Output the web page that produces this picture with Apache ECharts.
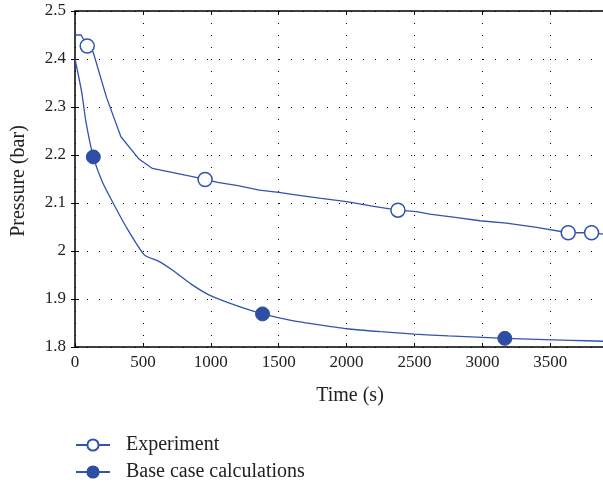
<!DOCTYPE html>
<html>
<head>
<meta charset="utf-8">
<script src="https://cdn.jsdelivr.net/npm/echarts@6/dist/echarts.min.js"></script>
<style>
  html, body { margin: 0; padding: 0; background: #fff; }
  #chart { width: 603px; height: 482px; }
</style>
</head>
<body>
<div id="chart"></div>
<script>
// 数据
var expTime = [0, 45, 90, 134, 232, 338, 473, 570, 695, 865, 958, 1050, 1200, 1358, 1500, 1650, 1800, 2000, 2200, 2378, 2514, 2612, 2800, 2981, 3177, 3399, 3632, 3804, 3888]
var expPressure = [2.45, 2.45, 2.427, 2.414, 2.32, 2.238, 2.191, 2.172, 2.165, 2.155, 2.149, 2.143, 2.136, 2.127, 2.122, 2.116, 2.11, 2.103, 2.093, 2.085, 2.082, 2.077, 2.07, 2.063, 2.058, 2.049, 2.038, 2.038, 2.035]
var expMarkerTimes = [90, 958, 2378, 3632, 3804]

var baseTime = [0, 50, 80, 135, 200, 275, 375, 510, 621, 719, 850, 990, 1200, 1381, 1600, 1800, 2000, 2250, 2500, 2750, 3000, 3165, 3400, 3650, 3888]
var basePressure = [2.40, 2.33, 2.27, 2.196, 2.145, 2.103, 2.051, 1.992, 1.978, 1.96, 1.932, 1.908, 1.885, 1.869, 1.855, 1.846, 1.838, 1.832, 1.827, 1.823, 1.82, 1.818, 1.816, 1.814, 1.812]
var baseMarkerTimes = [135, 1381, 3165]

var xTicks = [0, 500, 1000, 1500, 2000, 2500, 3000, 3500]
var seriesNames = ['Experiment', 'Base case calculations']

var blue = '#3353b0'
var font = 'Liberation Serif'

function buildData (times, values, marks) {
  return times.map(function (t, i) {
    var on = marks.indexOf(t) >= 0
    return {
      value: [t, values[i]],
      symbol: on ? 'circle' : 'none',
      symbolSize: on ? 14 : 0
    }
  })
}

var gridLine = { show: true, lineStyle: { color: '#000', width: 1, type: [1, 11] } }

function legendAt (name, top) {
  return {
    orient: 'vertical',
    left: 70,
    top: top,
    itemWidth: 34,
    itemHeight: 14,
    textStyle: { fontFamily: font, fontSize: 20, color: '#222', padding: [0, 0, 0, 11] },
    data: [name]
  }
}

var myChart = echarts.init(document.getElementById('chart'))
var option = {
  animation: false,
  grid: { left: 75, top: 11, right: 0, bottom: 135, outerBoundsMode: 'none', containLabel: false },
  legend: [legendAt(seriesNames[0], 430), legendAt(seriesNames[1], 457)],
  xAxis: [
    {
      type: 'value',
      min: 0,
      max: 3888,
      interval: 500,
      name: 'Time (s)',
      nameLocation: 'middle',
      nameGap: 39,
      nameTextStyle: { fontFamily: font, fontSize: 20, color: '#222', padding: [0, 0, 0, 22] },
      axisLine: { show: true, lineStyle: { color: '#000', width: 1.5 } },
      axisTick: { show: true, inside: true, length: 4, lineStyle: { color: '#000' } },
      axisLabel: {
        fontFamily: font, fontSize: 17, color: '#222', margin: 7,
        formatter: function (v) { return xTicks.indexOf(v) >= 0 ? String(v) : '' }
      },
      splitLine: gridLine
    },
    {
      type: 'value',
      position: 'top',
      min: 0,
      max: 3888,
      interval: 500,
      axisLine: { show: true, lineStyle: { color: '#000', width: 1.5 } },
      axisTick: { show: true, inside: true, length: 4, lineStyle: { color: '#000' } },
      axisLabel: { show: false },
      splitLine: { show: false }
    }
  ],
  yAxis: [
    {
      type: 'value',
      min: 1.8,
      max: 2.5,
      interval: 0.1,
      name: 'Pressure (bar)',
      nameLocation: 'middle',
      nameGap: 46,
      nameTextStyle: { fontFamily: font, fontSize: 20, color: '#222', padding: [0, 4, 0, 0] },
      axisLine: { show: true, lineStyle: { color: '#000', width: 1.5 } },
      axisTick: { show: true, inside: true, length: 4, lineStyle: { color: '#000' } },
      axisLabel: {
        fontFamily: font, fontSize: 17, color: '#222', margin: 9,
        formatter: function (v) { return String(Math.round(v * 10) / 10) }
      },
      splitLine: gridLine
    },
    {
      type: 'value',
      position: 'right',
      min: 1.8,
      max: 2.5,
      interval: 0.1,
      axisLine: { show: false },
      axisTick: { show: true, inside: true, length: 4, lineStyle: { color: '#000' } },
      axisLabel: { show: false },
      splitLine: { show: false }
    }
  ],
  series: [
    {
      name: seriesNames[0],
      type: 'line',
      symbol: 'circle',
      symbolSize: 14,
      showAllSymbol: true,
      lineStyle: { color: blue, width: 1.3 },
      itemStyle: { color: '#fff', borderColor: blue, borderWidth: 1.5 },
      data: buildData(expTime, expPressure, expMarkerTimes),
      z: 3
    },
    {
      name: seriesNames[1],
      type: 'line',
      symbol: 'circle',
      symbolSize: 14,
      showAllSymbol: true,
      smooth: 0.2,
      lineStyle: { color: blue, width: 1.3 },
      itemStyle: { color: '#2e4ea3', borderColor: '#2e4ea3', borderWidth: 1 },
      data: buildData(baseTime, basePressure, baseMarkerTimes),
      z: 3
    }
  ]
}
myChart.setOption(option)
</script>
</body>
</html>
